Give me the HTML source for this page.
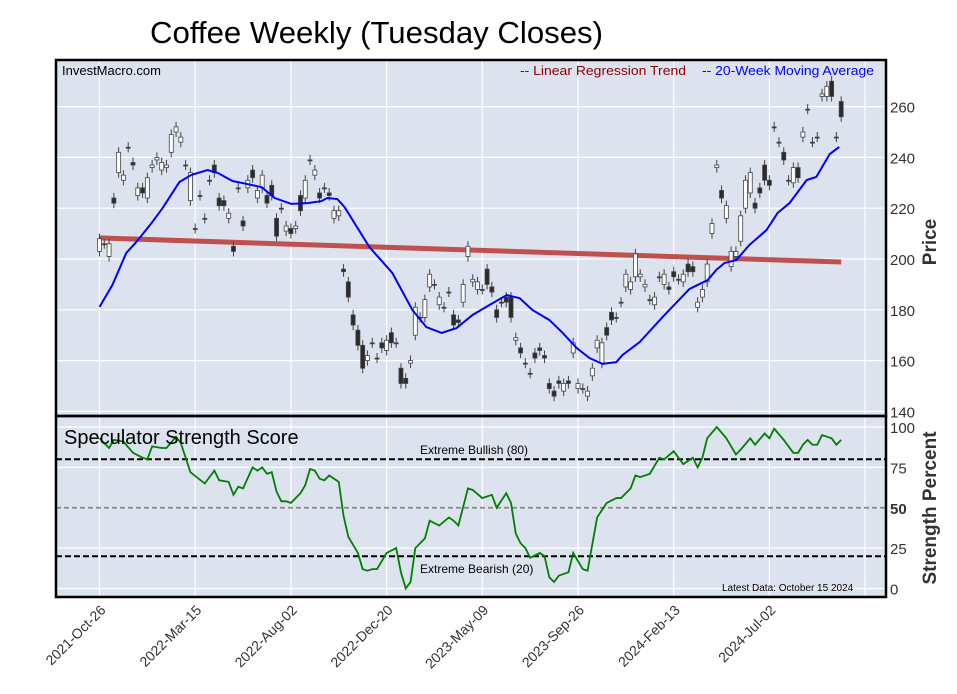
<!DOCTYPE html>
<html><head><meta charset="utf-8"><title>Coffee Weekly</title>
<style>
html,body{margin:0;padding:0;background:#fff;}
svg{display:block;font-family:"Liberation Sans",Arial,sans-serif;}
</style></head>
<body>
<svg id="chart" width="957" height="694" viewBox="0 0 957 694" xmlns="http://www.w3.org/2000/svg">
  <text x="150" y="43" font-size="31" textLength="453" lengthAdjust="spacingAndGlyphs" fill="#000">Coffee Weekly (Tuesday Closes)</text>
  <rect x="56" y="60" width="830" height="356" fill="#dce2ee"/>
  <rect x="56" y="416" width="830" height="181" fill="#dce2ee"/>
  <g id="grid"></g>
  <g id="price"></g>
  <g id="score"></g>
  <rect x="56" y="60" width="830" height="356" fill="none" stroke="#000" stroke-width="2.5"/>
  <rect x="56" y="416" width="830" height="181" fill="none" stroke="#000" stroke-width="2.5"/>
  <text x="62" y="75" font-size="13" fill="#000">InvestMacro.com</text>
  <text x="520" y="75" font-size="13" fill="#8b0000" textLength="166" lengthAdjust="spacingAndGlyphs">-- Linear Regression Trend</text>
  <text x="702" y="75" font-size="13" fill="#0000ff" textLength="172" lengthAdjust="spacingAndGlyphs">-- 20-Week Moving Average</text>
  <text x="64" y="444" font-size="20" fill="#000">Speculator Strength Score</text>
  <text x="420" y="454" font-size="12" fill="#000">Extreme Bullish (80)</text>
  <text x="420" y="573" font-size="12" fill="#000">Extreme Bearish (20)</text>
  <text x="722" y="591" font-size="10" fill="#000">Latest Data: October 15 2024</text>
  <text transform="translate(936,242) rotate(-90)" text-anchor="middle" font-size="19" font-weight="bold" fill="#333">Price</text>
  <text transform="translate(936,508) rotate(-90)" text-anchor="middle" font-size="19" font-weight="bold" fill="#333">Strength Percent</text>
</svg>
<script>
// ---- data ----
const opens = [203,206,201,224,234,231,244,238,225,228,224,236,239,235,236,242,250,246,237,223,212,225,216,231,237,224,223,216,205,228,215,228,235,224,228,225,229,216,220,211,212,212,225,224,239,233,226,228,226,216,217,196,191,178,172,166,160,167,161,167,164,171,167,157,153,159,170,177,177,189,190,182,181,187,178,176,183,201,191,188,188,196,189,180,183,185,185,168,165,159,155,163,165,162,151,148,152,148,152,163,149,149,146,154,165,159,173,179,177,183,189,188,193,193,189,184,182,193,190,189,195,192,191,198,197,181,185,191,210,236,227,216,197,201,207,220,226,222,228,237,231,252,246,242,231,230,236,248,259,246,248,264,264,270,248,262];
const closes = [208,206,206,222,242,233,244,237,228,226,232,237,240,238,237,249,252,248,237,234,212,225,216,231,234,221,221,218,203,228,213,231,232,227,233,222,225,209,220,213,210,213,219,231,239,235,224,228,225,219,219,195,185,174,166,157,162,167,161,165,168,167,167,151,151,160,181,177,184,194,190,185,181,187,174,175,190,205,192,191,188,190,187,177,183,183,177,169,163,159,155,161,164,161,149,146,151,151,151,167,151,149,148,157,168,167,170,176,177,183,194,191,202,194,190,184,185,193,194,188,193,192,194,195,195,183,188,198,214,237,224,221,203,203,217,231,234,220,226,231,229,252,246,239,231,236,232,250,259,246,248,265,268,264,248,256];
const maWeeks = [0,2.7,5.6,7.7,10.9,13.2,16.7,19.2,22.6,24.7,27.8,30.9,33.9,36.6,40.1,43.5,46.4,47.6,49.7,51.2,56.4,61.2,65.4,68.3,71.5,74.6,78.0,81.5,85.1,87.8,90.5,94.0,96.8,99.7,102.4,105.1,108.0,109.3,112.9,117.7,123.3,127.1,128.9,130.6,133.1,135.8,139.4,141.7,144.2,147.8,149.8,152.6,154.6];
const maValues = [181.1,189.8,202.4,206.7,214.2,220.1,230.3,233.1,235.0,233.9,230.7,229.5,228.3,224.0,221.7,222.0,222.8,224.0,223.6,220.5,204.7,194.5,179.9,173.2,170.9,172.8,178.0,181.9,185.8,184.6,179.9,176.0,170.9,165.0,161.0,158.7,159.4,162.2,167.3,177.2,188.2,191.7,195.7,198.4,199.6,205.5,211.4,218.1,222.0,231.1,232.3,241.3,244.1];
const trendStart = 208.3;
const trendEnd = 198.8;
const scoreWeeks = [0,2,3,5,7,9,10,11,13,14,16,17,19,22,24,25,27,28,29,30,32,33,34,35,36,37,38,39,40,42,43,44,45,46,47,48,50,51,52,54,55,56,57,58,60,62,63,64,65,66,68,69,71,73,74,75,77,78,80,82,83,85,86,87,88,89,90,92,93,94,95,96,98,99,100,101,102,104,106,108,109,111,112,113,115,117,118,120,122,124,125,126,127,129,131,133,134,136,137,139,140,141,143,145,146,147,148,149,150,151,153,154,155];
const scoreValues = [93,87,92,91,84,81,80,88,87,87,94,90,72,65,73,67,66,58,63,62,75,73,75,71,72,60,54,54,53,59,64,74,73,68,67,70,66,45,32,22,12,11,12,12,22,25,10,0,4,25,31,42,39,44,42,39,62,61,56,58,50,59,53,34,28,25,19,22,20,7,4,8,10,22,17,12,11,44,53,56,56,62,70,69,71,81,80,85,77,81,75,81,93,100,93,83,86,93,89,96,93,99,92,84,84,89,92,89,89,95,93,89,92];
const priceTicks = [140,160,180,200,220,240,260];
const scoreTicks = [0,25,50,75,100];
const xTickWeeks = [0,20,40,60,80,100,120,140];
const xTickLabels = ["2021-Oct-26","2022-Mar-15","2022-Aug-02","2022-Dec-20","2023-May-09","2023-Sep-26","2024-Feb-13","2024-Jul-02"];

// ---- scales ----
const NS = "http://www.w3.org/2000/svg";
const xW = w => 99.5 + w * 4.785;
const yP = p => 259 - (p - 200) * 2.54;
const yS = s => 588.5 - s * 1.615;
function mk(tag, attrs, parent){const e=document.createElementNS(NS,tag);for(const k in attrs)e.setAttribute(k,attrs[k]);parent.appendChild(e);return e;}
const svg=document.getElementById('chart');
const grid=document.getElementById('grid');
const gp=document.getElementById('price');
const gs=document.getElementById('score');

for (let k=0;k<9;k++){
  const x=xW(k*20);
  let l=mk('line',{x1:x,x2:x,y1:60,y2:597,stroke:'#fff','stroke-width':1.2},grid);
  
  
}
priceTicks.forEach(p=>{
  const y=yP(p);
  let l=mk('line',{x1:56,x2:886,y1:y,y2:y,stroke:'#fff','stroke-width':1.2},grid);
  
  
  let t=mk('text',{x:890,y:y+6,'font-size':15,fill:'#333'},svg);
  t.textContent=p;
  
  
});
scoreTicks.forEach(s=>{
  const y=yS(s);
  let l;
  if(s===50){l=mk('line',{x1:56,x2:886,y1:y,y2:y,stroke:'#888','stroke-width':1.8,'stroke-dasharray':'5,3'},grid);}
  else{l=mk('line',{x1:56,x2:886,y1:y,y2:y,stroke:'#fff','stroke-width':1.2},grid);}
  
  
  let t=mk('text',{x:890,y:y+6,'font-size':15,fill:'#333','font-weight':s===50?'bold':'normal'},svg);
  t.textContent=s;
  
  
});
[80,20].forEach(s=>{
  const y=yS(s);
  let l=mk('line',{x1:56,x2:886,y1:y,y2:y,stroke:'#000','stroke-width':2,'stroke-dasharray':'6,3'},grid);
  
  
});
xTickWeeks.forEach((w,i)=>{
  const x=xW(w);
  let t=mk('text',{transform:`translate(${x+7},${611}) rotate(-45)`,'text-anchor':'end','font-size':14,fill:'#333'},svg);
  t.textContent=xTickLabels[i];
  
  
});

let tr=mk('line',{x1:xW(0),x2:xW(opens.length-1),y1:yP(trendStart),y2:yP(trendEnd),stroke:'#c0504d','stroke-width':5},gp);



opens.forEach((o,i)=>{
  const c=closes[i];
  const x=xW(i);
  const hi=Math.max(o,c)+2, lo=Math.min(o,c)-2;
  let wk=mk('line',{x1:x,x2:x,y1:yP(hi),y2:yP(lo),stroke:'#444','stroke-width':1},gp);
  
  
  const top=yP(Math.max(o,c)), bot=yP(Math.min(o,c));
  let b=mk('rect',{x:x-2,y:top,width:4,height:Math.max(bot-top,1),fill:c>o?'#fff':'#2b2b2b',stroke:'#444','stroke-width':0.8},gp);
  
  
});

let ma=mk('polyline',{points:maWeeks.map((w,i)=>xW(w)+','+yP(maValues[i])).join(' '),fill:'none',stroke:'#0000ff','stroke-width':2},gp);



let sl=mk('polyline',{points:scoreWeeks.map((w,i)=>xW(w)+','+yS(scoreValues[i])).join(' '),fill:'none',stroke:'#008000','stroke-width':1.8},gs);


</script>
</body></html>
